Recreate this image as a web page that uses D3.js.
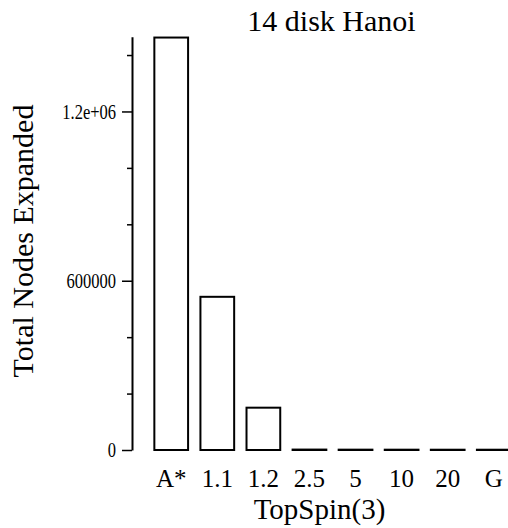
<!DOCTYPE html>
<html>
<head>
<meta charset="utf-8">
<style>
  body { margin: 0; background: #fff; }
  svg text { font-family: "Liberation Serif", "DejaVu Serif", serif; fill: #000; }
</style>
</head>
<body>
<svg id="chart" width="508" height="528"></svg>
<script src="https://d3js.org/d3.v7.min.js"></script>
<script>
  // values
  const categories = ["A*", "1.1", "1.2", "2.5", "5", "10", "20", "G"];
  const nodesExpanded = [1462000, 543000, 150000, 1500, 1200, 1100, 1000, 1000];
  const majorTicks = [0, 600000, 1200000];
  const majorTickLabels = ["0", "600000", "1.2e+06"];
  const minorTicks = [200000, 400000, 800000, 1000000, 1400000];

  const svg = d3.select("#chart");

  const x = d3.scaleBand()
    .domain(categories)
    .range([142, 523])
    .paddingInner(0.268)
    .paddingOuter(0.268);

  const y = d3.scaleLinear()
    .domain([0, 1465000])
    .range([450, 36.7]);

  // bars
  svg.append("g")
    .selectAll("rect")
    .data(categories)
    .join("rect")
    .attr("x", d => x(d))
    .attr("width", x.bandwidth())
    .attr("y", (d, i) => y(nodesExpanded[i]))
    .attr("height", (d, i) => y(0) - y(nodesExpanded[i]))
    .attr("fill", "#fff")
    .attr("stroke", "#000")
    .attr("stroke-width", 2);

  // y axis, labelled major ticks
  const yAxis = svg.append("g")
    .attr("transform", "translate(132,0)")
    .call(d3.axisLeft(y)
      .tickValues(majorTicks)
      .tickFormat((d, i) => majorTickLabels[i])
      .tickSize(10)
      .tickPadding(6)
      .tickSizeOuter(0));
  yAxis.select(".domain").attr("stroke-width", 2);
  yAxis.selectAll(".tick line").attr("stroke-width", 1.5);
  // reference glyphs are taller than Times, stretch them a bit
  yAxis.selectAll(".tick text")
    .attr("font-size", 16.5)
    .attr("dy", "0.34em")
    .attr("transform", "scale(1,1.22)");

  // minor ticks
  const yMinor = svg.append("g")
    .attr("transform", "translate(132,0)")
    .call(d3.axisLeft(y)
      .tickValues(minorTicks)
      .tickFormat("")
      .tickSize(5)
      .tickSizeOuter(0));
  yMinor.select(".domain").remove();
  yMinor.selectAll(".tick line").attr("stroke-width", 1.5);

  // x axis: labels only
  const xAxis = svg.append("g")
    .attr("transform", "translate(0,450)")
    .call(d3.axisBottom(x).tickSize(0).tickPadding(19));
  xAxis.select(".domain").remove();
  xAxis.selectAll(".tick text")
    .attr("font-size", 25);

  // title and axis labels
  svg.append("text")
    .attr("x", 331.5)
    .attr("y", 31)
    .attr("text-anchor", "middle")
    .attr("font-size", 30)
    .text("14 disk Hanoi");

  svg.append("text")
    .attr("x", 319.5)
    .attr("y", 519)
    .attr("text-anchor", "middle")
    .attr("font-size", 29)
    .text("TopSpin(3)");

  svg.append("text")
    .attr("transform", "translate(33,241) rotate(-90)")
    .attr("text-anchor", "middle")
    .attr("font-size", 30)
    .text("Total Nodes Expanded");
</script>
</body>
</html>
